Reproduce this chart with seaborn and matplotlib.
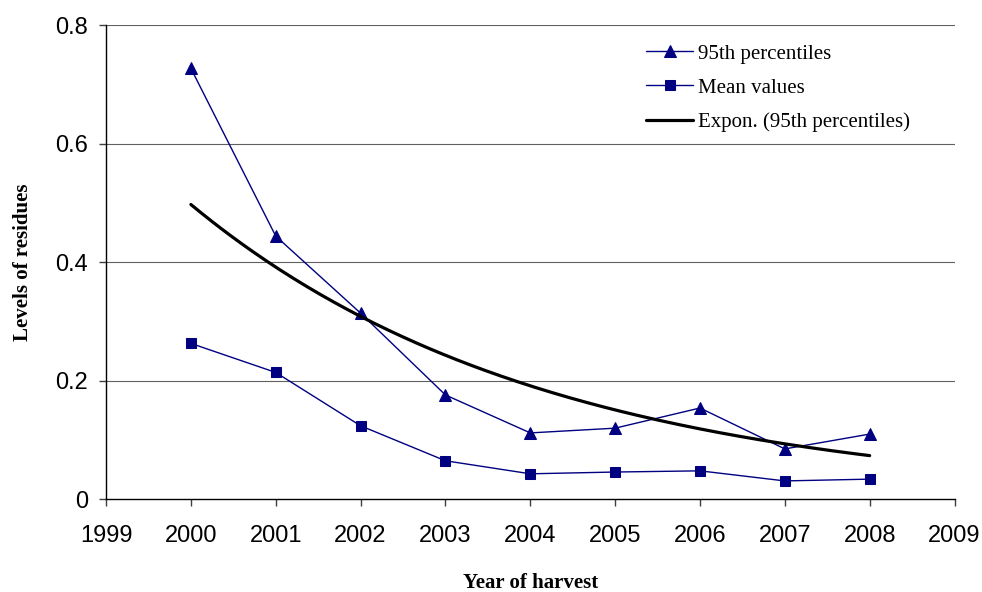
import numpy as np
import pandas as pd
import matplotlib
matplotlib.use("Agg")
import matplotlib.pyplot as plt
import seaborn as sns

years = [2000, 2001, 2002, 2003, 2004, 2005, 2006, 2007, 2008]
p95 = [0.727, 0.444, 0.314, 0.176, 0.112, 0.120, 0.154, 0.085, 0.110]
mean_vals = [0.263, 0.214, 0.124, 0.065, 0.043, 0.046, 0.048, 0.031, 0.034]
labels = ["95th percentiles", "Mean values", "Expon. (95th percentiles)"]
xticks = list(range(1999, 2010))
yticks = [0, 0.2, 0.4, 0.6, 0.8]
ytick_labels = ["0", "0.2", "0.4", "0.6", "0.8"]

sns.set_style("white")
plt.rcParams["font.family"] = ["Liberation Sans", "DejaVu Sans"]
plt.rcParams["text.color"] = "black"
plt.rcParams["axes.labelcolor"] = "black"
plt.rcParams["xtick.color"] = "black"
plt.rcParams["ytick.color"] = "black"

navy = "#000080"
fig = plt.figure(figsize=(9.82, 5.92), dpi=100)
ax = fig.add_axes([0.108, 0.1566, 0.864, 0.801])

df = pd.DataFrame({"year": years, "p95": p95, "mean": mean_vals})

# exponential trendline fitted to 95th percentiles (like Excel)
b, ln_a = np.polyfit(np.array(years) - 2000, np.log(p95), 1)
xt = np.linspace(2000, 2008, 200)
trend = pd.DataFrame({"year": xt, "val": np.exp(ln_a + b * (xt - 2000))})

for yv in yticks[1:]:
    ax.axhline(yv, color="#606060", lw=0.8, zorder=0)

sns.lineplot(data=df, x="year", y="p95", ax=ax, color=navy, lw=1.0,
             marker="^", markersize=9, markeredgecolor=navy,
             markerfacecolor=navy, label=labels[0])
sns.lineplot(data=df, x="year", y="mean", ax=ax, color=navy, lw=1.0,
             marker="s", markersize=7.5, markeredgecolor=navy,
             markerfacecolor=navy, label=labels[1])
sns.lineplot(data=trend, x="year", y="val", ax=ax, color="black", lw=2.3,
             label=labels[2])

ax.set_xlim(1999, 2009)
ax.set_ylim(0, 0.8)
ax.set_xticks(xticks)
ax.set_xticklabels([str(x) for x in xticks], fontsize=17)
ax.set_yticks(yticks)
ax.set_yticklabels(ytick_labels, fontsize=17)
ax.tick_params(axis="x", direction="out", length=5, width=1, color="#404040",
               bottom=True, pad=13.5)
ax.tick_params(axis="y", direction="out", length=5, width=1, color="#404040",
               left=True, pad=8)

for s in ["top", "right"]:
    ax.spines[s].set_visible(False)
for s in ["left", "bottom"]:
    ax.spines[s].set_color("black")
    ax.spines[s].set_linewidth(1)

ax.set_xlabel("Year of harvest", fontsize=15, fontweight="bold",
              family=["Liberation Serif"], labelpad=19)
ax.set_ylabel("Levels of residues", fontsize=15, fontweight="bold",
              family=["Liberation Serif"], labelpad=16)

leg = ax.legend(loc="upper left", bbox_to_anchor=(646 / 982, 1 - 44 / 592),
                bbox_transform=fig.transFigure, frameon=False,
                prop={"family": "Liberation Serif", "size": 15},
                handlelength=2.26, handletextpad=0.25, labelspacing=0.7,
                borderpad=0, borderaxespad=0)

fig.savefig("out.png", dpi=100)
